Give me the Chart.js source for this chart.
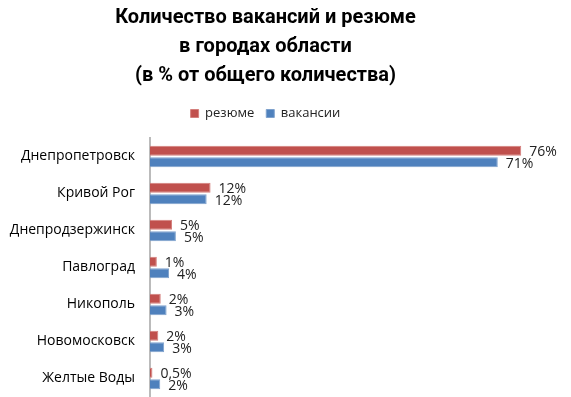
<!DOCTYPE html>
<html>
<head>
<meta charset="utf-8">
<script src="https://cdn.jsdelivr.net/npm/chart.js@4/dist/chart.umd.min.js"></script>
<style>
html,body{margin:0;padding:0;background:#fff;}
canvas{display:block;}
</style>
</head>
<body>
<canvas id="c" width="571" height="397"></canvas>
<script>
const titleLines = ['Количество вакансий и резюме', 'в городах области', '(в % от общего количества)'];
const categories = ['Днепропетровск', 'Кривой Рог', 'Днепродзержинск', 'Павлоград', 'Никополь', 'Новомосковск', 'Желтые Воды'];
const seriesNames = ['резюме', 'вакансии'];
const resumeValues = [76.0, 12.4, 4.5, 1.4, 2.2, 1.7, 0.5];
const vacancyValues = [71.2, 11.6, 5.3, 3.9, 3.4, 2.9, 2.1];
const resumeLabels = ['76%', '12%', '5%', '1%', '2%', '2%', '0,5%'];
const vacancyLabels = ['71%', '12%', '5%', '4%', '3%', '3%', '2%'];

const valueLabelPlugin = {
  id: 'valueLabels',
  afterDatasetsDraw(chart) {
    const ctx = chart.ctx;
    ctx.save();
    ctx.font = '14px "Open Sans", sans-serif';
    ctx.fillStyle = '#222';
    ctx.textAlign = 'left';
    ctx.textBaseline = 'middle';
    chart.data.datasets.forEach((ds, di) => {
      const meta = chart.getDatasetMeta(di);
      meta.data.forEach((bar, i) => {
        ctx.fillText(ds.valueLabels[i], bar.x + 8, bar.y + 1 + di);
      });
    });
    ctx.restore();
  }
};

const legendSpacePlugin = {
  id: 'legendSpace',
  beforeUpdate(chart) {
    const lg = chart.legend;
    if (lg && !lg._patched) {
      const orig = lg.fit;
      lg.fit = function () { orig.call(this); this.height += 8; };
      lg._patched = true;
    }
  }
};

new Chart(document.getElementById('c'), {
  type: 'bar',
  data: {
    labels: categories,
    datasets: [
      { label: seriesNames[0], data: resumeValues, valueLabels: resumeLabels, backgroundColor: '#C0504D', borderColor: '#D47F7C', borderWidth: 1, categoryPercentage: 0.62, barPercentage: 0.86 },
      { label: seriesNames[1], data: vacancyValues, valueLabels: vacancyLabels, backgroundColor: '#4F81BD', borderColor: '#7FA2CD', borderWidth: 1, categoryPercentage: 0.62, barPercentage: 0.86 }
    ]
  },
  options: {
    indexAxis: 'y',
    responsive: false,
    animation: false,
    layout: { padding: { left: 0, right: 40, top: 0, bottom: 0 } },
    plugins: {
      title: {
        display: true,
        text: titleLines,
        color: '#000',
        font: { family: 'Roboto', size: 20, weight: 'bold', lineHeight: 1.45 },
        padding: { top: 3, bottom: 5 }
      },
      legend: {
        display: true,
        position: 'top',
        labels: {
          boxWidth: 8, boxHeight: 8, padding: 12,
          color: '#222',
          font: { family: '"Open Sans"', size: 13 }
        }
      },
      tooltip: { enabled: false }
    },
    scales: {
      x: { display: false, min: 0, max: 78 },
      y: {
        grid: { display: false, drawTicks: false },
        border: { display: true, color: '#BBBBBB', width: 2 },
        ticks: { color: '#000', padding: 15, font: { family: '"Open Sans"', size: 14 } },
        afterFit(scale) { scale.width = 150; scale.paddingTop = 0; scale.paddingBottom = 0; }
      }
    }
  },
  plugins: [valueLabelPlugin, legendSpacePlugin]
});
</script>
</body>
</html>
